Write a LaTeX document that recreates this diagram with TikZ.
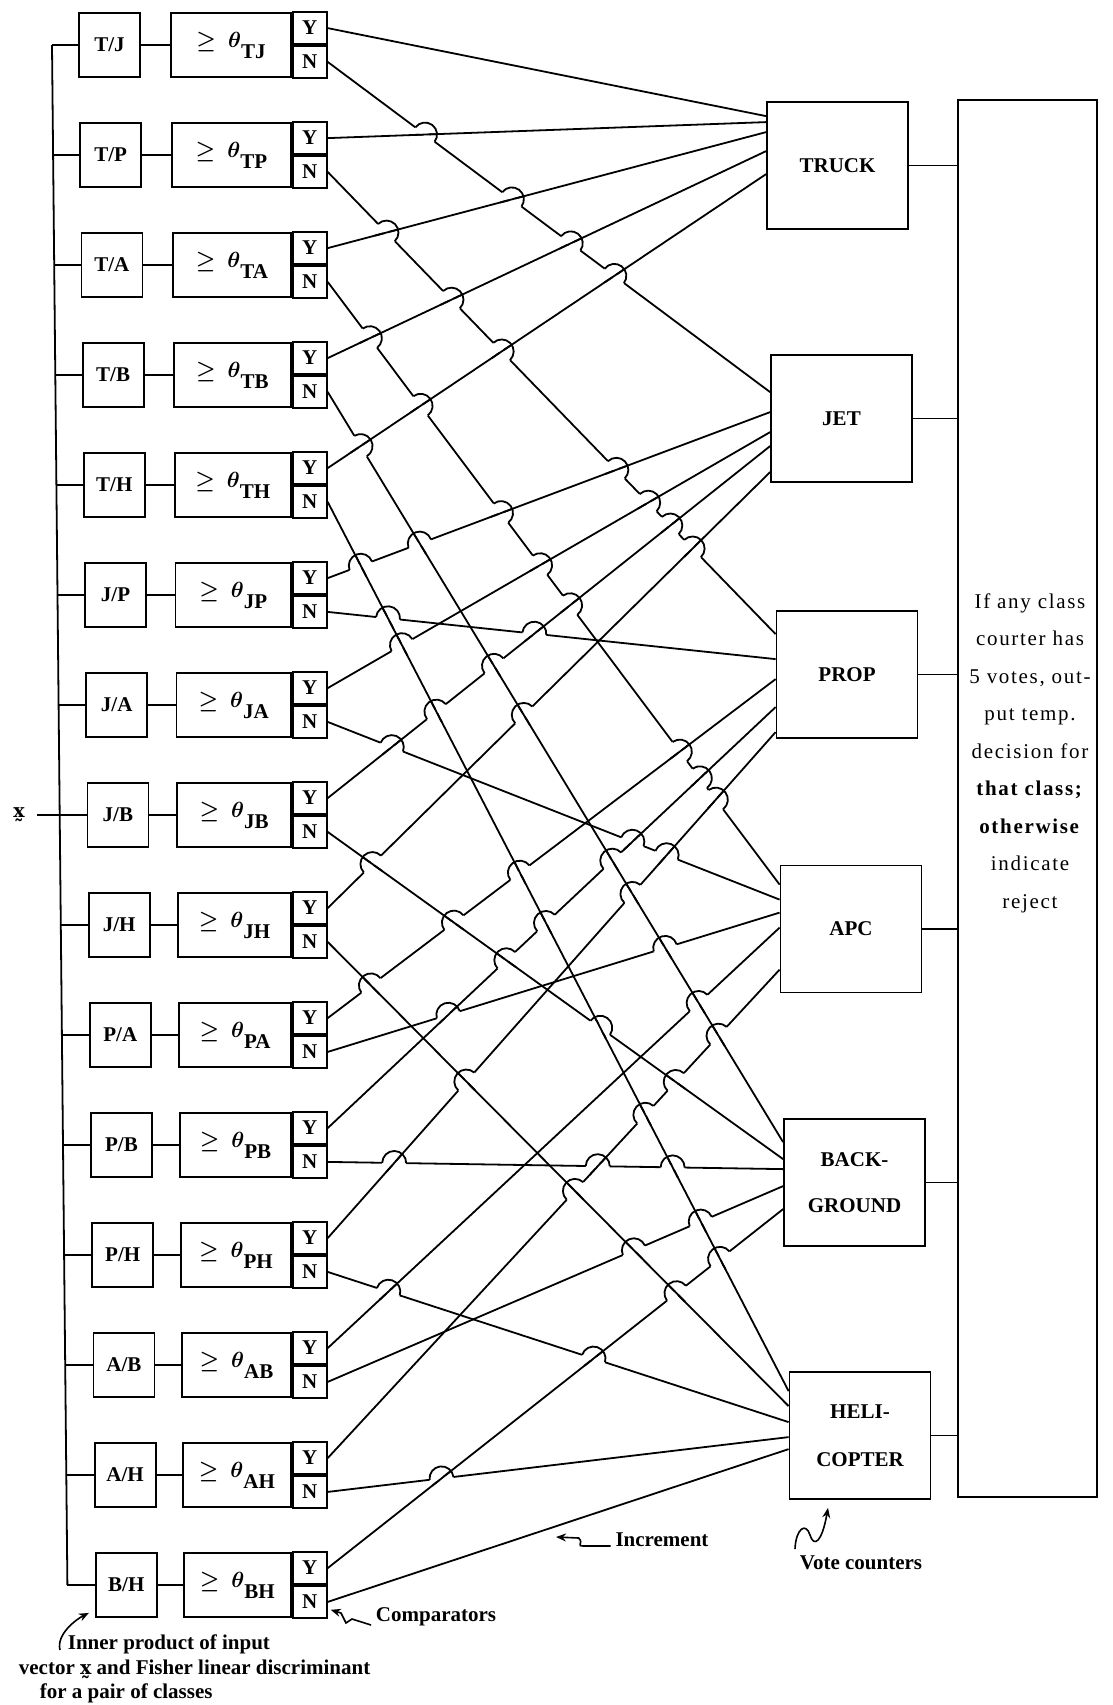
\documentclass[tikz,border=0pt]{standalone}
\usepackage{fontspec}
\setmainfont{Liberation Serif}
\newfontfamily\djv{DejaVu Serif}
\usetikzlibrary{calc,arrows.meta}
\newcommand{\myvx}{{\djv\bfseries\fontsize{9.5}{12}\selectfont x^^^^0330}}
\newcommand{\wv}[2]{\csname w#1#2\endcsname}
\newcount\nearcount
\newcommand{\hopinner}[6]{%
  \ifnum\numexpr(#1-\qx)*(#1-\qx)+(#2-\qy)*(#2-\qy)\relax<169 \advance\nearcount by 1 \fi}
\newcommand{\drawhop}[4]{%
  \coordinate (X) at (#1pt,#2pt);
  \draw[erase] ($(X)+({#4+180}:\hr)$) -- ($(X)+(#4:\hr)$);
  \draw[wire] ($(X)+({#3+180}:\hr)$) -- ($(X)+(#3:\hr)$);
  \draw[wire] ($(X)+({#4+180}:\hr)$) arc[start angle=#4+180,end angle=#4,radius=\hr];}
\newcommand{\hopouter}[6]{%
  \def\qx{#1}\def\qy{#2}\nearcount=0
  \let\hopitem\hopinner \crosslist \let\hopitem\hopouter
  \ifnum\nearcount<2 \drawhop{#3}{#4}{#5}{#6}\fi}
\let\hopitem\relax
\begin{document}
\begin{tikzpicture}[x=0.5pt,y=-0.5pt,line width=0.9pt,
  font=\fontsize{10.5}{12}\selectfont\bfseries,
  pairbox/.style={draw,minimum width=30.5pt,minimum height=32pt,inner sep=0pt},
  cmpbox/.style={draw,minimum height=32pt,inner sep=0pt},
  ynbox/.style={draw,minimum width=17pt,minimum height=16pt,inner sep=0pt},
  classbox/.style={draw,minimum width=70.5pt,minimum height=63.5pt,inner sep=0pt,align=center},
  wire/.style={line width=0.9pt},
  erase/.style={white,line width=2.2pt},
  note/.style={inner sep=0pt},
  pointer/.style={line width=0.8pt,-{Stealth[length=5pt,width=4pt]}}]
\useasboundingbox (0,0) rectangle (1113,1705);
\def\hr{6pt}

% ---------- comparator rows ----------
\foreach \k/\pa/\pb in {0/T/J,1/T/P,2/T/A,3/T/B,4/T/H,5/J/P,6/J/A,7/J/B,8/J/H,9/P/A,10/P/B,11/P/H,12/A/B,13/A/H,14/B/H}{
  \pgfmathsetmacro\yc{45+110*\k}
  \pgfmathsetmacro\bx{52+1.1*\k}
  \pgfmathsetmacro\px{109.5+1.2*\k}
  \pgfmathsetmacro\cl{171+0.9*\k}
  \pgfmathsetmacro\cw{(291-\cl)/2}
  \pgfmathsetmacro\cx{(\cl+291)/2}
  \coordinate (b\k) at (\bx,\yc);
  \node[pairbox] (p\k) at (\px,\yc) {\pa/\pb};
  \node[cmpbox,minimum width=\cw pt] (c\k) at (\cx,\yc)
     {{\boldmath$\geq$}\hspace{6pt}{\boldmath$\theta$}\raisebox{-5.5pt}{\pa\pb}};
  \node[ynbox,anchor=south west] (y\k) at (c\k.east) {Y};
  \node[ynbox,anchor=north west] (n\k) at (c\k.east) {N};
  \draw (b\k) -- (p\k.west) (p\k.east) -- (c\k.west);
}
\draw (b0) -- (b14);
\node[note] (xl) at (19,815) {\myvx};
\coordinate (xin) at (37,815);
\draw (xin) -- (b7);

% ---------- vote counters ----------
\node[classbox] (T) at (837.5,165.5) {TRUCK};
\node[classbox] (J) at (841.5,418.5) {JET};
\node[classbox] (P) at (847,674.5) {PROP};
\node[classbox] (A) at (851,929) {APC};
\node[classbox] (B) at (854.5,1182.5) {BACK-\\[11pt]GROUND};
\node[classbox] (H) at (860,1435.5) {HELI-\\[12pt]COPTER};

\foreach \c/\offs in {T/{15,21,31,50,73},J/{38,58,78,92,118},P/{24,49,69,97,122},
                      A/{20,35,48,63,105},B/{24,41,51,68,91},H/{20,35,51,66,78}}{
  \foreach \o [count=\m] in \offs { \path (\c.north west) ++(0,\o) coordinate (\c\m); }
}

% ---------- decision box ----------
\node[draw,minimum width=69.5pt,minimum height=698.5pt,inner sep=0pt] (R) at (1027.5,798.5) {};
\foreach \c in {T,J,P,A,B,H} \draw (\c.east) -- (\c.east -| R.west);
\node[align=center,inner sep=0pt,font=\fontsize{10.5}{18.75}\selectfont\mdseries\addfontfeatures{LetterSpace=8}] (rt) at (1030,753)
  {If any class\\courter has\\5 votes, out-\\put temp.\\decision for\\\textbf{that class;}\\\textbf{otherwise}\\indicate\\reject};

% ---------- wires ----------
\foreach \i/\s/\d in {1/y0/T1,2/y1/T2,3/y2/T3,4/y3/T4,5/y4/T5,
   6/n3/B1,7/n4/H1,8/n7/B2,9/n8/H2,
   10/y5/J2,11/y6/J3,12/y7/J4,13/y8/J5,14/y9/P3,15/y10/P4,16/y11/P5,17/y12/A4,18/y13/A5,19/y14/B5,
   20/n0/J1,21/n1/P1,22/n2/A1,23/n5/P2,24/n6/A2,25/n9/A3,26/n10/B3,27/n11/H3,28/n12/B4,29/n13/H4,30/n14/H5}{
  \draw[wire] (\s.east) -- (\d);
  \path let \p1=(\s.east), \p2=(\d) in
    \pgfextra{%
      \pgfmathsetmacro\tmpa{\x1}\expandafter\xdef\csname wsx\i\endcsname{\tmpa}%
      \pgfmathsetmacro\tmpa{\y1}\expandafter\xdef\csname wsy\i\endcsname{\tmpa}%
      \pgfmathsetmacro\tmpa{\x2}\expandafter\xdef\csname wex\i\endcsname{\tmpa}%
      \pgfmathsetmacro\tmpa{\y2}\expandafter\xdef\csname wey\i\endcsname{\tmpa}%
      \expandafter\xdef\csname wa\i\endcsname{\fpeval{round(atand((\wv{ey}{\i})-(\wv{sy}{\i}),(\wv{ex}{\i})-(\wv{sx}{\i})),3)}}%
    };
}

% ---------- crossings: collect (later wire hops over earlier one) ----------
\gdef\crosslist{}
\foreach \j in {6,...,30}{
  \pgfmathtruncatemacro\jm{\j-1}
  \foreach \i in {1,...,\jm}{
    \edef\dax{\fpeval{(\wv{ex}{\i})-(\wv{sx}{\i})}}%
    \edef\day{\fpeval{(\wv{ey}{\i})-(\wv{sy}{\i})}}%
    \edef\dbx{\fpeval{(\wv{ex}{\j})-(\wv{sx}{\j})}}%
    \edef\dby{\fpeval{(\wv{ey}{\j})-(\wv{sy}{\j})}}%
    \edef\wwx{\fpeval{(\wv{sx}{\j})-(\wv{sx}{\i})}}%
    \edef\wwy{\fpeval{(\wv{sy}{\j})-(\wv{sy}{\i})}}%
    \edef\den{\fpeval{(\dax)*(\dby)-(\day)*(\dbx)}}%
    \ifnum\fpeval{abs(\den)>1}=1
      \edef\tpar{\fpeval{((\wwx)*(\dby)-(\wwy)*(\dbx))/(\den)}}%
      \edef\upar{\fpeval{((\wwx)*(\day)-(\wwy)*(\dax))/(\den)}}%
      \ifnum\fpeval{(\tpar>0.01)&&(\tpar<0.99)&&(\upar>0.01)&&(\upar<0.99)}=1
        \edef\ixx{\fpeval{round((\wv{sx}{\i})+(\tpar)*(\dax),3)}}%
        \edef\iyy{\fpeval{round((\wv{sy}{\i})+(\tpar)*(\day),3)}}%
        \edef\cxi{\fpeval{round(\ixx)}}\edef\cyi{\fpeval{round(\iyy)}}%
        \xdef\crosslist{\crosslist\noexpand\hopitem{\cxi}{\cyi}{\ixx}{\iyy}{\wv{a}{\i}}{\wv{a}{\j}}}%
      \fi
    \fi
  }
}
% ---------- hops: only isolated crossings ----------
\let\hopitem\hopouter
\crosslist

% ---------- annotations ----------
\node[note] (cmpl) at (436,1617) {Comparators};
\coordinate (cmptip) at ($(n14.south east)+(3,-9)$);
\draw[pointer] ($(cmpl.west)+(-4,8)$) -- (352,1619) -- (346,1623) -- (341,1613) -- (cmptip);

\node[note,anchor=north west,align=left,font=\fontsize{10.5}{12.25}\selectfont\bfseries] (cap) at (18,1634)
  {\hspace*{24.5pt}Inner product of input\\vector \myvx\ and Fisher linear discriminant\\\hspace*{10.5pt}for a pair of classes};
\coordinate (ipst) at (60,1650);
\coordinate (iptip) at ($(p14.south west)+(-6,-5)$);
\draw[pointer] (ipst) .. controls +(-4,-16) and +(-12,6) .. (iptip);

\node[note] (inc) at (662,1540) {Increment};
\coordinate (inctip) at (556,1537);
\draw[pointer] ($(inc.west)+(-4,6)$) -- ++(-26,0) .. controls +(-10,0) and +(6,6) .. ++(-6,-8) -- (inctip);

\node[note] (vc) at (861,1563) {Vote counters};
\coordinate (vctip) at ($(H.south)+(-32,8)$);
\draw[pointer] (795,1549) .. controls (796,1528) and (806,1522) .. (810,1535) .. controls (814,1548) and (822,1542) .. (vctip);
\end{tikzpicture}
\end{document}
